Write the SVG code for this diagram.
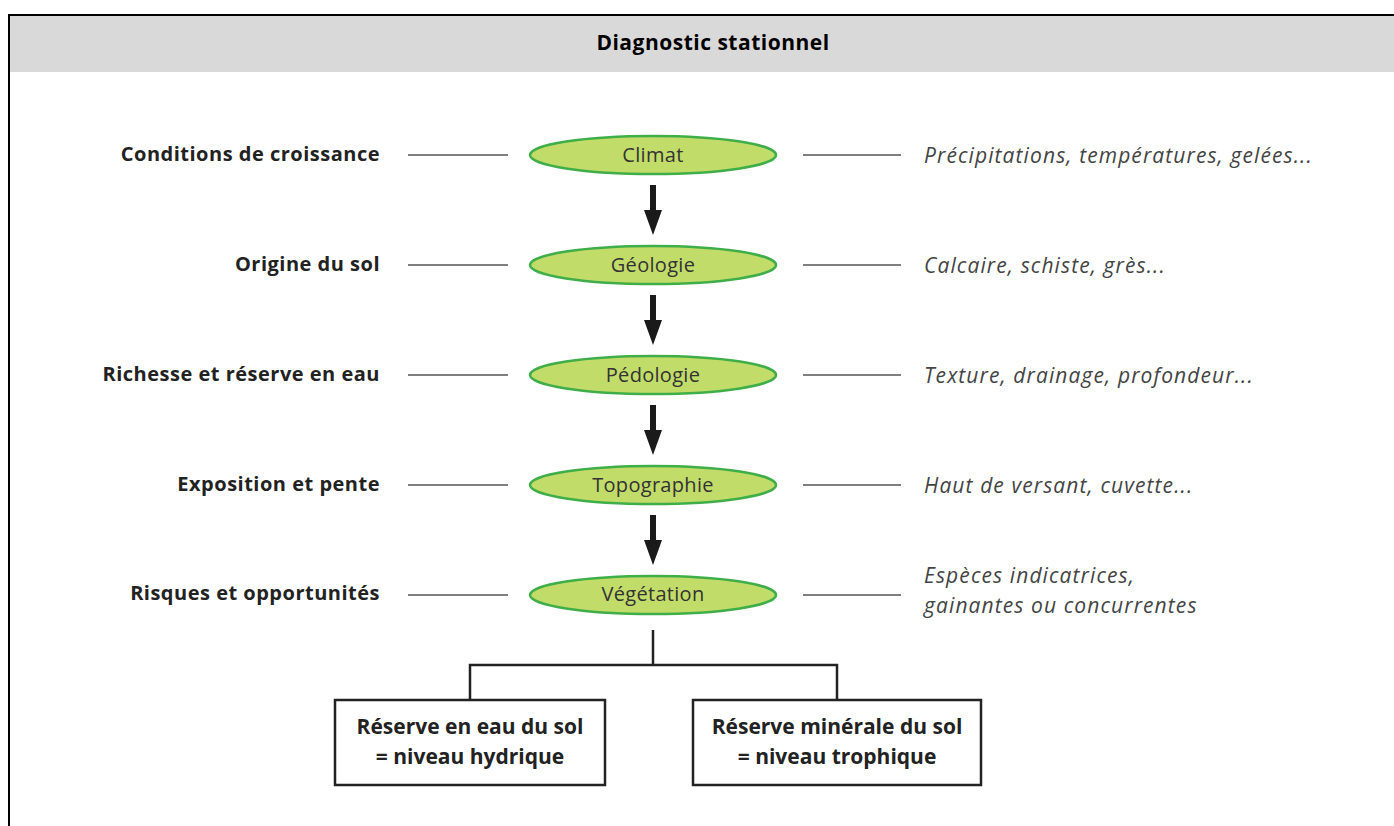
<svg xmlns="http://www.w3.org/2000/svg" width="1394" height="826" viewBox="0 0 1394 826">
<defs>
<style>
.frame{fill:none;stroke:#000;stroke-width:2}
.hdr{fill:#d9d9d9}
.ell{fill:#c2dc6a;stroke:#3fae49;stroke-width:2.5}
.et{font-family:"Open Sans",sans-serif;font-size:20px;letter-spacing:0.3px;fill:#333;text-anchor:middle}
.lt{font-family:"Open Sans",sans-serif;font-size:20px;letter-spacing:0.5px;font-weight:bold;fill:#222;text-anchor:end}
.rt{font-family:"Open Sans",sans-serif;font-size:21px;letter-spacing:1.1px;font-style:italic;fill:#444}
.side{stroke:#555;stroke-width:1.3}
.tree{fill:none;stroke:#222;stroke-width:2.5}
.box{fill:#fff;stroke:#222;stroke-width:2.5}
.bt{font-family:"Open Sans",sans-serif;font-size:21px;font-weight:bold;fill:#222;text-anchor:middle}
.title{font-family:"Open Sans",sans-serif;font-size:21px;letter-spacing:0.5px;font-weight:bold;fill:#000;text-anchor:middle}
</style>
</defs>
<rect width="1394" height="826" fill="#fff"/>
<g id="header">
<rect class="hdr" x="9" y="16" width="1385" height="56"/>
<path class="frame" d="M9,826 V15 H1394"/>
<text class="title" x="713" y="50">Diagnostic stationnel</text>
</g>
<g id="connectors">
<g fill="#1a1a1a">
<path d="M650,185 h6 v25 h6 l-9,25 l-9,-25 h6 z"/>
<path d="M650,295 h6 v25 h6 l-9,25 l-9,-25 h6 z"/>
<path d="M650,405 h6 v25 h6 l-9,25 l-9,-25 h6 z"/>
<path d="M650,515 h6 v25 h6 l-9,25 l-9,-25 h6 z"/>
</g>
<g class="side">
<line x1="408" y1="155" x2="508" y2="155"/><line x1="803" y1="155" x2="901" y2="155"/>
<line x1="408" y1="265" x2="508" y2="265"/><line x1="803" y1="265" x2="901" y2="265"/>
<line x1="408" y1="375" x2="508" y2="375"/><line x1="803" y1="375" x2="901" y2="375"/>
<line x1="408" y1="485" x2="508" y2="485"/><line x1="803" y1="485" x2="901" y2="485"/>
<line x1="408" y1="595" x2="508" y2="595"/><line x1="803" y1="595" x2="901" y2="595"/>
</g>
<path class="tree" d="M653,630 V665 M470,700 V665 H837 V700"/>
</g>
<g id="climat">
<ellipse class="ell" cx="653" cy="155" rx="123" ry="19"/>
<text class="et" x="653" y="162">Climat</text>
<text class="lt" x="380" y="161">Conditions de croissance</text>
<text class="rt" x="924" y="163">Précipitations, températures, gelées...</text>
</g>
<g id="geologie">
<ellipse class="ell" cx="653" cy="265" rx="123" ry="19"/>
<text class="et" x="653" y="272">Géologie</text>
<text class="lt" x="380" y="271">Origine du sol</text>
<text class="rt" x="924" y="273">Calcaire, schiste, grès...</text>
</g>
<g id="pedologie">
<ellipse class="ell" cx="653" cy="375" rx="123" ry="19"/>
<text class="et" x="653" y="382">Pédologie</text>
<text class="lt" x="380" y="381">Richesse et réserve en eau</text>
<text class="rt" x="924" y="383">Texture, drainage, profondeur...</text>
</g>
<g id="topographie">
<ellipse class="ell" cx="653" cy="485" rx="123" ry="19"/>
<text class="et" x="653" y="492">Topographie</text>
<text class="lt" x="380" y="491">Exposition et pente</text>
<text class="rt" x="924" y="493">Haut de versant, cuvette...</text>
</g>
<g id="vegetation">
<ellipse class="ell" cx="653" cy="595" rx="123" ry="19"/>
<text class="et" x="653" y="601">Végétation</text>
<text class="lt" x="380" y="600">Risques et opportunités</text>
<text class="rt" x="924" y="583">Espèces indicatrices,</text>
<text class="rt" x="924" y="613">gainantes ou concurrentes</text>
</g>
<g id="reserve-eau">
<rect class="box" x="335" y="700" width="270" height="85"/>
<text class="bt" x="470" y="734">Réserve en eau du sol</text>
<text class="bt" x="470" y="764">= niveau hydrique</text>
</g>
<g id="reserve-minerale">
<rect class="box" x="693" y="700" width="288" height="85"/>
<text class="bt" x="837" y="734">Réserve minérale du sol</text>
<text class="bt" x="837" y="764">= niveau trophique</text>
</g>
</svg>
